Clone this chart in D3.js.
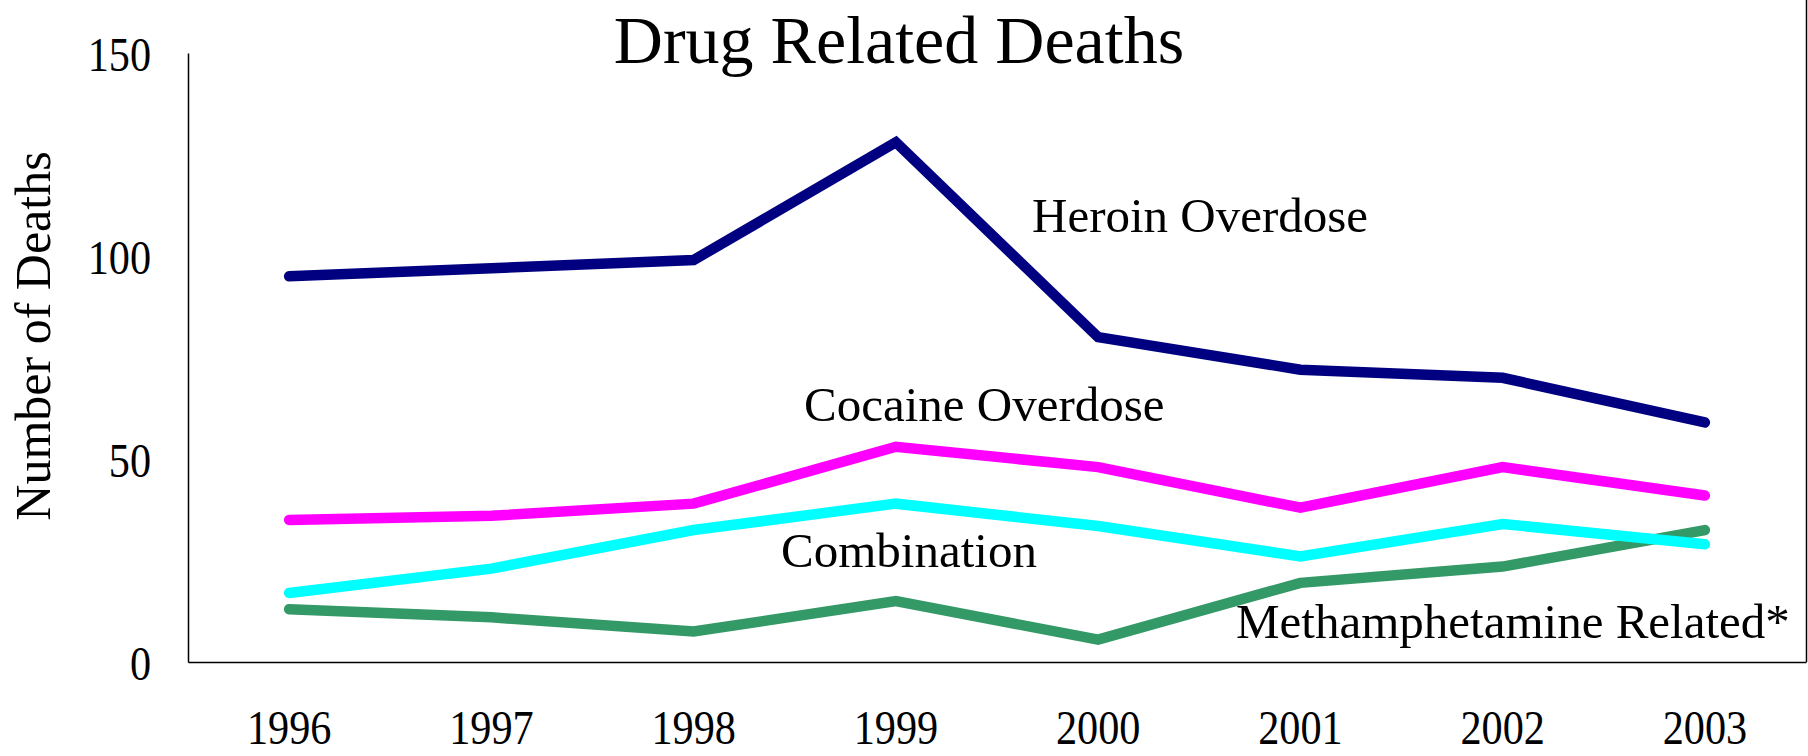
<!DOCTYPE html>
<html>
<head>
<meta charset="utf-8">
<script src="https://cdn.jsdelivr.net/npm/d3@7"></script>
<style>
  body { margin: 0; background: #fff; }
  text { font-family: "Liberation Serif", "Times New Roman", serif; fill: #000; }
</style>
</head>
<body>
<div id="chart"></div>
<script>
const years = ['1996', '1997', '1998', '1999', '2000', '2001', '2002', '2003'];
const heroin = [95, 97, 99, 128, 80, 72, 70, 59];
const cocaine = [35, 36, 39, 53, 48, 38, 48, 41];
const combination = [17, 23, 32.5, 39, 33.5, 26, 34, 29];
const meth = [13, 11, 7.5, 15, 5.5, 19.5, 23.5, 32.5];
const yTicks = [0, 50, 100, 150];

const width = 1808;
const height = 756;
const margin = { top: 53, right: 2, bottom: 94, left: 188 };

const svg = d3.select('#chart')
    .append('svg')
    .attr('width', width)
    .attr('height', height);

const xScale = d3.scaleBand()
    .domain(years)
    .range([margin.left, width - margin.right]);
const yScale = d3.scaleLinear()
    .domain([0, 150])
    .range([height - margin.bottom, margin.top]);

const xMid = (d) => xScale(d) + xScale.bandwidth() / 2;

// axes, no tick marks
const yAxis = svg.append('g')
    .attr('transform', `translate(${margin.left},0)`)
    .call(d3.axisLeft(yScale).tickValues(yTicks).tickSize(0).tickSizeOuter(0).tickPadding(37));
const xAxis = svg.append('g')
    .attr('transform', `translate(0,${height - margin.bottom})`)
    .call(d3.axisBottom(xScale).tickSize(0).tickSizeOuter(0).tickPadding(48));

[yAxis, xAxis].forEach((g) => {
    g.select('.domain').attr('stroke', '#000').attr('stroke-width', 1.5);
    g.selectAll('text')
        .style('font-family', '"Liberation Serif", serif')
        .style('font-size', '48px')
        .attr('fill', '#000');
});
yAxis.selectAll('text').attr('dy', '0.37em');

// squeeze the digits a little, the original font is narrower
svg.selectAll('.tick text').each(function () {
    const w = this.getComputedTextLength();
    d3.select(this).attr('textLength', w * 0.88).attr('lengthAdjust', 'spacingAndGlyphs');
});

// right border of the plot area
svg.append('line')
    .attr('x1', width - margin.right + 0.5)
    .attr('x2', width - margin.right + 0.5)
    .attr('y1', 0)
    .attr('y2', height - margin.bottom)
    .attr('stroke', '#000')
    .attr('stroke-width', 1.5);

const series = [
    { name: 'Heroin Overdose', values: heroin, color: '#000080' },
    { name: 'Cocaine Overdose', values: cocaine, color: '#FF00FF' },
    { name: 'Methamphetamine Related*', values: meth, color: '#339966' },
    { name: 'Combination', values: combination, color: '#00FFFF' }
];

const line = d3.line()
    .x((d, i) => xMid(years[i]))
    .y((d) => yScale(d));

series.forEach((s) => {
    svg.append('path')
        .datum(s.values)
        .attr('fill', 'none')
        .attr('stroke', s.color)
        .attr('stroke-width', 10.5)
        .attr('stroke-linecap', 'round')
        .attr('stroke-linejoin', 'miter')
        .attr('d', line);
});

// series labels written on the chart
const labels = [
    { text: 'Heroin Overdose', x: 1032, y: 232 },
    { text: 'Cocaine Overdose', x: 804, y: 421 },
    { text: 'Combination', x: 781, y: 567 },
    { text: 'Methamphetamine Related*', x: 1236, y: 638 }
];
svg.selectAll('.series-label')
    .data(labels)
    .enter()
    .append('text')
    .attr('class', 'series-label')
    .attr('x', (d) => d.x)
    .attr('y', (d) => d.y)
    .style('font-size', '49px')
    .text((d) => d.text);

svg.append('text')
    .attr('x', 899)
    .attr('y', 63)
    .attr('text-anchor', 'middle')
    .style('font-size', '68px')
    .text('Drug Related Deaths');

svg.append('text')
    .attr('transform', 'translate(50,336) rotate(-90)')
    .attr('text-anchor', 'middle')
    .style('font-size', '50px')
    .text('Number of Deaths');
</script>
</body>
</html>
